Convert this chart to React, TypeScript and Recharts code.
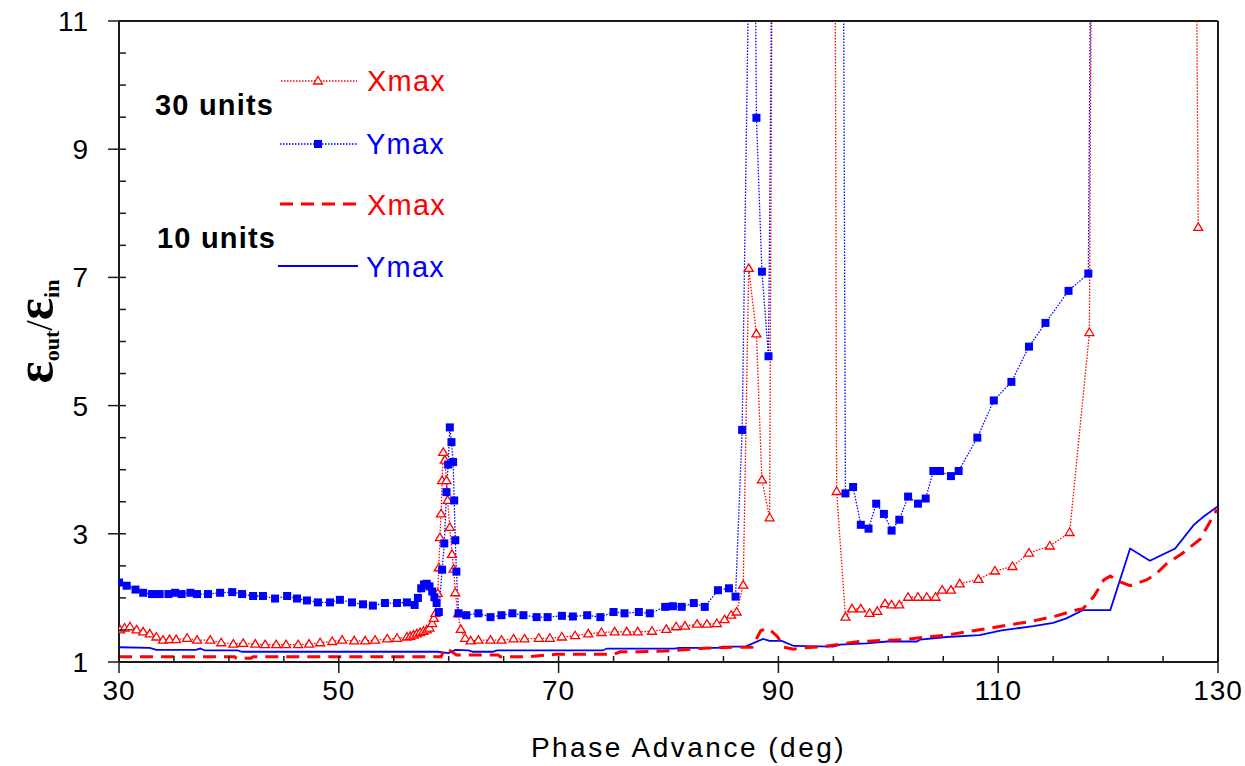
import React from 'react';
import { LineChart, Line, XAxis, YAxis, ReferenceLine, Legend } from 'recharts';

const RED = '#ff0000';
const BLUE = '#0000ff';
const AXIS = '#1a1a1a';
const SANS = '"Liberation Sans", Arial, Helvetica, sans-serif';
const SERIF = '"Liberation Serif", "Times New Roman", serif';

// [phase advance (deg), emittance growth]; 13 stands for values above the plotted range
const xmax30: [number, number][] = [
  [30.1, 1.5], [30.5, 1.53], [31.0, 1.55], [31.6, 1.5], [32.2, 1.47], [32.8, 1.44], [33.4, 1.39],
  [34.0, 1.34], [34.6, 1.35], [35.2, 1.35], [36.2, 1.37], [37.1, 1.34], [38.3, 1.34], [39.3, 1.3],
  [40.4, 1.28], [41.3, 1.29], [42.4, 1.28], [43.3, 1.27], [44.3, 1.27], [45.2, 1.27], [46.3, 1.27],
  [47.3, 1.28], [48.3, 1.3], [49.4, 1.32], [50.3, 1.34], [51.4, 1.33], [52.4, 1.33], [53.3, 1.34],
  [54.4, 1.36], [55.3, 1.37], [56.2, 1.39], [56.5, 1.4], [56.8, 1.42], [57.1, 1.44], [57.4, 1.46],
  [57.7, 1.48], [58.0, 1.5], [58.25, 1.53], [58.5, 1.6], [58.65, 1.68], [58.8, 1.76], [59.0, 2.07],
  [59.1, 2.47], [59.2, 2.94], [59.3, 3.31], [59.4, 3.83], [59.5, 4.27], [59.65, 4.15], [59.8, 3.83],
  [59.9, 3.52], [60.1, 3.1], [60.3, 2.68], [60.45, 2.45], [60.6, 2.08], [60.85, 1.75], [61.1, 1.51],
  [61.5, 1.37], [62.0, 1.33], [62.7, 1.34], [63.8, 1.34], [64.8, 1.34], [65.9, 1.36], [66.9, 1.36],
  [68.2, 1.37], [69.2, 1.37], [70.3, 1.39], [71.5, 1.41], [72.7, 1.44], [73.9, 1.46], [75.1, 1.47],
  [76.2, 1.47], [77.2, 1.47], [78.5, 1.48], [79.8, 1.51], [80.7, 1.55], [81.5, 1.56], [82.6, 1.59],
  [83.5, 1.59], [84.4, 1.6], [85.1, 1.66], [85.7, 1.73], [86.2, 1.78], [86.8, 2.2], [87.3, 7.14],
  [88.0, 6.12], [88.5, 3.84], [89.2, 3.25], [89.45, 13], [95.15, 13], [95.3, 3.66], [96.1, 1.7],
  [96.7, 1.83], [97.5, 1.83], [98.3, 1.76], [99.0, 1.79], [99.7, 1.91], [100.3, 1.89], [101.0, 1.89],
  [101.8, 2.01], [102.7, 2.01], [103.5, 2.01], [104.3, 2.01], [104.9, 2.12], [105.7, 2.12],
  [106.5, 2.22], [108.2, 2.29], [109.7, 2.42], [111.3, 2.49], [112.8, 2.7], [114.7, 2.81],
  [116.5, 3.02], [118.3, 6.14], [118.5, 13], [128.0, 13], [128.2, 7.78],
];

const ymax30: [number, number][] = [
  [30.0, 2.24], [30.7, 2.19], [31.5, 2.13], [32.2, 2.08], [33.0, 2.06], [33.7, 2.06], [34.5, 2.06],
  [35.1, 2.08], [35.7, 2.06], [36.5, 2.08], [37.1, 2.06], [38.1, 2.06], [39.2, 2.08], [40.3, 2.09],
  [41.2, 2.06], [42.2, 2.03], [43.1, 2.03], [44.2, 1.99], [45.3, 2.03], [46.2, 1.99], [47.1, 1.96],
  [48.1, 1.93], [49.2, 1.93], [50.1, 1.97], [51.2, 1.93], [52.2, 1.9], [53.1, 1.88], [54.2, 1.92],
  [55.3, 1.92], [56.2, 1.93], [56.9, 1.89], [57.2, 2.0], [57.5, 2.15], [57.75, 2.21], [58.0, 2.22],
  [58.25, 2.18], [58.5, 2.1], [58.7, 2.01], [58.9, 1.92], [59.1, 1.78], [59.4, 2.44], [59.6, 2.85],
  [59.8, 3.65], [59.95, 4.08], [60.1, 4.66], [60.25, 4.43], [60.4, 4.12], [60.5, 3.52], [60.6, 2.9],
  [60.7, 2.41], [60.9, 1.76], [61.6, 1.73], [62.7, 1.76], [63.8, 1.7], [64.8, 1.73], [65.8, 1.76],
  [66.8, 1.73], [68.0, 1.7], [69.0, 1.7], [70.3, 1.72], [71.3, 1.71], [72.6, 1.73], [73.8, 1.7],
  [75.0, 1.78], [76.0, 1.76], [77.3, 1.78], [78.3, 1.76], [79.7, 1.86], [80.4, 1.87], [81.2, 1.86],
  [82.3, 1.92], [83.3, 1.86], [84.5, 2.12], [85.5, 2.15], [86.1, 2.02], [86.7, 4.62], [87.4, 13],
  [87.85, 13], [88.0, 9.49], [88.5, 7.09], [89.1, 5.77], [89.45, 13], [95.9, 13], [96.1, 3.63],
  [96.8, 3.73], [97.5, 3.14], [98.2, 3.08], [98.9, 3.47], [99.6, 3.31], [100.3, 3.05], [101.0, 3.22],
  [101.8, 3.58], [102.7, 3.47], [103.4, 3.55], [104.1, 3.98], [104.7, 3.98], [105.7, 3.9],
  [106.4, 3.98], [108.1, 4.5], [109.6, 5.08], [111.2, 5.37], [112.8, 5.92], [114.3, 6.29],
  [116.4, 6.79], [118.2, 7.06], [118.45, 13],
];

const xmax10: [number, number][] = [
  [30.0, 1.08], [40.5, 1.08], [40.7, 1.06], [42.0, 1.06], [42.2, 1.08], [59.3, 1.08], [59.6, 1.2],
  [60.2, 1.17], [60.7, 1.11], [64.5, 1.11], [64.7, 1.08], [67.0, 1.08], [69.8, 1.12], [75.0, 1.12],
  [75.6, 1.16], [77.3, 1.16], [79.7, 1.17], [82.8, 1.21], [85.9, 1.23], [87.6, 1.23], [88.4, 1.49],
  [89.1, 1.52], [89.9, 1.4], [90.5, 1.23], [91.4, 1.2], [92.0, 1.22], [94.0, 1.24], [97.4, 1.32],
  [101.4, 1.35], [103.5, 1.39], [105.3, 1.42], [107.1, 1.47], [109.3, 1.53], [111.4, 1.59],
  [113.2, 1.64], [115.3, 1.72], [117.1, 1.81], [117.7, 1.83], [118.7, 2.02], [119.6, 2.28],
  [120.2, 2.34], [121.1, 2.25], [122.0, 2.19], [123.5, 2.28], [124.4, 2.38], [125.3, 2.53],
  [126.8, 2.7], [128.4, 2.92], [129.9, 3.38],
];

const ymax10: [number, number][] = [
  [30.0, 1.23], [32.8, 1.22], [33.4, 1.19], [37.0, 1.19], [37.4, 1.21], [37.8, 1.18], [40.8, 1.18],
  [41.2, 1.16], [59.0, 1.16], [60.0, 1.14], [60.6, 1.19], [61.8, 1.18], [62.2, 1.16], [64.0, 1.16],
  [64.4, 1.18], [74.0, 1.18], [74.4, 1.21], [80.5, 1.21], [81.0, 1.22], [84.5, 1.22], [84.9, 1.24],
  [87.0, 1.24], [88.6, 1.36], [89.2, 1.33], [90.3, 1.33], [91.4, 1.25], [95.0, 1.24], [95.6, 1.27],
  [98.0, 1.29], [99.9, 1.32], [102.6, 1.32], [102.9, 1.35], [105.3, 1.39], [108.3, 1.42],
  [110.2, 1.49], [113.2, 1.56], [115.0, 1.61], [116.2, 1.68], [117.7, 1.81], [120.2, 1.81],
  [122.0, 2.77], [123.8, 2.58], [126.1, 2.77], [127.8, 3.14], [128.7, 3.27], [130.0, 3.43],
];

const xTicks = [30, 35, 40, 45, 50, 55, 60, 65, 70, 75, 80, 85, 90, 95, 100, 105, 110, 115, 120, 125, 130];
const xLabels = [30, 50, 70, 90, 110, 130];
const yTicks = [1, 1.5, 2, 2.5, 3, 3.5, 4, 4.5, 5, 5.5, 6, 6.5, 7, 7.5, 8, 8.5, 9, 9.5, 10, 10.5, 11];
const yLabels = [1, 3, 5, 7, 9, 11];

const toPoints = (rows: [number, number][]) => rows.map(([x, v]) => ({ x, v }));

const TriangleDot = (p: any) => {
  const { cx, cy, payload, index } = p;
  if (cx == null || cy == null || payload.v > 11) return <g key={index} />;
  return (
    <path
      key={index}
      d={`M${cx},${cy - 4.5} L${cx + 4.5},${cy + 3} L${cx - 4.5},${cy + 3} Z`}
      fill="#fff"
      stroke={RED}
      strokeWidth={1.3}
    />
  );
};

const SquareDot = (p: any) => {
  const { cx, cy, payload, index } = p;
  if (cx == null || cy == null || payload.v > 11) return <g key={index} />;
  return <rect key={index} x={cx - 4} y={cy - 4} width={8} height={8} fill={BLUE} />;
};

const XTick = (props: any) => {
  const { x, y, payload } = props;
  const v = payload.value;
  const major = xLabels.includes(v);
  return (
    <g>
      <line x1={x} x2={x} y1={y - 6} y2={major ? y + 11 : y} stroke={AXIS} strokeWidth={1.5} />
      {major && (
        <text x={x} y={y + 38} textAnchor="middle" fontSize={28} fontFamily={SANS} letterSpacing={1} fill="#000">
          {v}
        </text>
      )}
    </g>
  );
};

const YTick = (props: any) => {
  const { x, y, payload } = props;
  const v = payload.value;
  const major = yLabels.includes(v);
  return (
    <g>
      <line x1={major ? x - 11 : x} x2={x + 7} y1={y} y2={y} stroke={AXIS} strokeWidth={1.5} />
      {major && (
        <text x={x - 30} y={y + 10} textAnchor="end" fontSize={28} fontFamily={SANS} letterSpacing={1} fill="#000">
          {v}
        </text>
      )}
    </g>
  );
};

const XTitle = (props: any) => {
  const vb = props.viewBox || { x: 119, y: 662, width: 1099, height: 104 };
  return (
    <text
      x={vb.x + vb.width / 2 + 20}
      y={vb.y + 95}
      textAnchor="middle"
      fontSize={28}
      fontFamily={SANS}
      letterSpacing={2.5}
      fill="#000"
    >
      Phase Advance (deg)
    </text>
  );
};

const YTitle = (props: any) => {
  const vb = props.viewBox || { x: 0, y: 21, width: 119, height: 641 };
  const cx = vb.x + 52;
  const cy = vb.y + vb.height / 2 - 10;
  return (
    <text
      transform={`translate(${cx},${cy}) rotate(-90)`}
      textAnchor="middle"
      fontFamily={SERIF}
      fontWeight="bold"
      fill="#000"
    >
      <tspan fontSize={52}>ε</tspan>
      <tspan fontSize={22} dy={7}>out</tspan>
      <tspan fontSize={38} dy={-7} fontWeight="normal">/</tspan>
      <tspan fontSize={52}>ε</tspan>
      <tspan fontSize={22} dy={7}>in</tspan>
    </text>
  );
};

const LegendPanel = () => (
  <svg width={1245} height={766} style={{ display: 'block', pointerEvents: 'none' }}>
    <g fontFamily={SANS} fontSize={29} letterSpacing={1.2}>
      <text x={155} y={115} fontWeight="bold" fill="#000">30 units</text>
      <text x={157} y={248} fontWeight="bold" fill="#000">10 units</text>

      <line x1={281} x2={357} y1={81} y2={81} stroke={RED} strokeWidth={1.3} strokeDasharray="1.5 1.5" />
      <path d="M318,76.5 L322.5,84 L313.5,84 Z" fill="#fff" stroke={RED} strokeWidth={1.3} />
      <text x={367} y={91} fill={RED}>Xmax</text>

      <line x1={280} x2={358} y1={144} y2={144} stroke={BLUE} strokeWidth={1.3} strokeDasharray="1.5 1.5" />
      <rect x={314} y={140} width={8} height={8} fill={BLUE} />
      <text x={366} y={154} fill={BLUE}>Ymax</text>

      <line x1={280} x2={358} y1={204} y2={204} stroke={RED} strokeWidth={3} strokeDasharray="13 8" />
      <text x={367} y={215} fill={RED}>Xmax</text>

      <line x1={278} x2={358} y1={266} y2={266} stroke={BLUE} strokeWidth={1.8} />
      <text x={366} y={277} fill={BLUE}>Ymax</text>
    </g>
  </svg>
);

export default function App() {
  return (
    <div style={{ position: 'absolute', left: 0, top: 0, width: 1245, height: 766, background: '#fff' }}>
      <LineChart width={1245} height={766} margin={{ top: 21, right: 27, bottom: 0, left: 0 }}>
        <XAxis
          dataKey="x"
          type="number"
          domain={[30, 130]}
          ticks={xTicks}
          interval={0}
          tick={XTick}
          tickSize={0}
          tickMargin={0}
          tickLine={false}
          axisLine={{ stroke: AXIS, strokeWidth: 2 }}
          height={104}
          allowDataOverflow
          label={XTitle}
        />
        <YAxis
          type="number"
          domain={[1, 11]}
          ticks={yTicks}
          interval={0}
          tick={YTick}
          tickSize={0}
          tickMargin={0}
          tickLine={false}
          axisLine={{ stroke: AXIS, strokeWidth: 2 }}
          width={119}
          allowDataOverflow
          label={YTitle}
        />
        <ReferenceLine y={11} stroke={AXIS} strokeWidth={2} />
        <ReferenceLine x={130} stroke={AXIS} strokeWidth={2} />
        <Line
          data={toPoints(xmax30)}
          dataKey="v"
          type="linear"
          stroke={RED}
          strokeWidth={1.3}
          strokeDasharray="1.5 1.5"
          dot={TriangleDot}
          activeDot={false}
          legendType="none"
          isAnimationActive={false}
        />
        <Line
          data={toPoints(ymax30)}
          dataKey="v"
          type="linear"
          stroke={BLUE}
          strokeWidth={1.3}
          strokeDasharray="1.5 1.5"
          dot={SquareDot}
          activeDot={false}
          legendType="none"
          isAnimationActive={false}
        />
        <Line
          data={toPoints(ymax10)}
          dataKey="v"
          type="linear"
          stroke={BLUE}
          strokeWidth={1.8}
          dot={false}
          activeDot={false}
          legendType="none"
          isAnimationActive={false}
        />
        <Line
          data={toPoints(xmax10)}
          dataKey="v"
          type="linear"
          stroke={RED}
          strokeWidth={3}
          strokeDasharray="13 8"
          dot={false}
          activeDot={false}
          legendType="none"
          isAnimationActive={false}
        />
        <Legend
          content={LegendPanel}
          layout="horizontal"
          align="center"
          verticalAlign="middle"
          wrapperStyle={{ left: 0, top: 0, width: 1245, height: 766, pointerEvents: 'none' }}
        />
      </LineChart>
    </div>
  );
}
